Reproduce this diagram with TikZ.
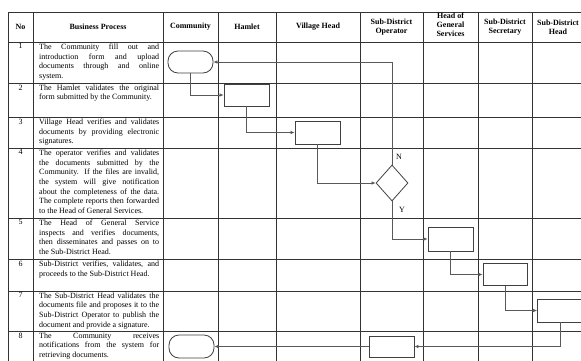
\documentclass[tikz,border=0pt]{standalone}
\usepackage{fontspec}
\setmainfont{Liberation Serif}
\usetikzlibrary{shapes.geometric,arrows.meta}
\tolerance=10000
\hbadness=10000
\begin{document}
\begin{tikzpicture}[x=1pt,y=-1pt,
  grid/.style={draw=black!80, line width=0.6pt},
  hdr/.style={font=\fontsize{8}{9}\selectfont\bfseries, align=center, inner sep=0pt},
  num/.style={font=\fontsize{8}{9.7}\selectfont, inner sep=0pt, anchor=north},
  desc/.style={font=\fontsize{8}{9.7}\selectfont, text width=120pt, align=justify, inner sep=0pt, anchor=north west},
  proc/.style={draw=black!75, line width=0.8pt, minimum width=45pt, minimum height=22pt, inner sep=0pt},
  term/.style={proc, rounded corners=10pt},
  decis/.style={diamond, draw=black!75, line width=0.8pt, minimum width=32pt, minimum height=36pt, inner sep=0pt},
  flow/.style={draw=black!65, line width=0.6pt, -{Latex[length=4pt,width=3.5pt]}},
  lbl/.style={font=\fontsize{8}{9}\selectfont, inner sep=0pt}
]
\useasboundingbox (0,0) rectangle (581,360);
\clip (0,0) rectangle (581,360);
\fill[white] (0,0) rectangle (581,360);
% grid
\foreach \yy in {12,42,83,117,148,218,259,291,331,364}
  \draw[grid] (8,\yy) -- (590,\yy);
\foreach \xx in {8,33,163,218,276,360,423,478,532,585}
  \draw[grid] (\xx,12) -- (\xx,370);
% header
\node[hdr] (hno) at (20.5,27) {No};
\node[hdr] (hbp) at (98,27) {Business Process};
\node[hdr] (hcom) at (190.5,27) {Community};
\node[hdr] (hham) at (247,27) {Hamlet};
\node[hdr] (hvil) at (318,27) {Village Head};
\node[hdr] (hsdo) at (391.5,27.5) {Sub-District\\Operator};
\node[hdr] (hgs) at (450.5,25) {Head of\\General\\Services};
\node[hdr] (hsds) at (505,27.5) {Sub-District\\Secretary};
\node[hdr] (hsdh) at (558,27.5) {Sub-District\\Head};
% row numbers and descriptions
\node[num] (n1) at (20.5,43.5) {1};
\node[desc] (d1) at (39,43.5) {The Community fill out and\linebreak introduction form and upload\linebreak documents through and online\linebreak system.};
\node[num] (n2) at (20.5,84.5) {2};
\node[desc] (d2) at (39,84.5) {The Hamlet validates the original\linebreak form submitted by the Community.};
\node[num] (n3) at (20.5,118.5) {3};
\node[desc] (d3) at (39,118.5) {Village Head verifies and validates\linebreak documents by providing electronic\linebreak signatures.};
\node[num] (n4) at (20.5,149.5) {4};
\node[desc] (d4) at (39,149.5) {The operator verifies and validates\linebreak the documents submitted by the\linebreak Community. If the files are invalid,\linebreak the system will give notification\linebreak about the completeness of the data.\linebreak The complete reports then forwarded\linebreak to the Head of General Services.};
\node[num] (n5) at (20.5,219.5) {5};
\node[desc] (d5) at (39,219.5) {The Head of General Service\linebreak inspects and verifies documents,\linebreak then disseminates and passes on to\linebreak the Sub-District Head.};
\node[num] (n6) at (20.5,260.5) {6};
\node[desc] (d6) at (39,260.5) {Sub-District verifies, validates, and\linebreak proceeds to the Sub-District Head.};
\node[num] (n7) at (20.5,292.5) {7};
\node[desc] (d7) at (39,292.5) {The Sub-District Head validates the\linebreak documents file and proposes it to the\linebreak Sub-District Operator to publish the\linebreak document and provide a signature.};
\node[num] (n8) at (20.5,332.5) {8};
\node[desc] (d8) at (39,332.5) {The Community receives\linebreak notifications from the system for\linebreak retrieving documents.};
% flow shapes
\node[term] (start) at (190.5,62) {};
\node[proc] (ham) at (246.5,95) {};
\node[proc, minimum height=23pt] (vil) at (317.5,132.5) {};
\node[decis] (dec) at (392,183) {};
\node[proc, minimum height=24pt] (gs) at (450.5,239) {};
\node[proc, minimum width=44pt] (sds) at (505,274.5) {};
\node[proc, minimum height=23pt] (sdh) at (560,310.5) {};
\node[proc, minimum height=21pt] (sdo) at (391.5,346.5) {};
\node[term, minimum height=23pt] (fin) at (191.5,346.5) {};
\node[lbl] (lN) at ([xshift=7pt,yshift=8pt]dec.north) {N};
\node[lbl] (lY) at ([xshift=10pt,yshift=-8pt]dec.south) {Y};
% connectors
\draw[flow] (start.south) |- (ham.west);
\draw[flow] (ham.south) |- (vil.west);
\draw[flow] (vil.south) |- (dec.west);
\draw[flow] (dec.north) |- (start.east);
\draw[flow] (dec.south) |- (gs.west);
\draw[flow] (gs.south) |- (sds.west);
\draw[flow] (sds.south) |- (sdh.west);
\draw[flow] (sdh.south) |- (sdo.east);
\draw[flow] (sdo.west) -- (fin.east);
\end{tikzpicture}
\end{document}
